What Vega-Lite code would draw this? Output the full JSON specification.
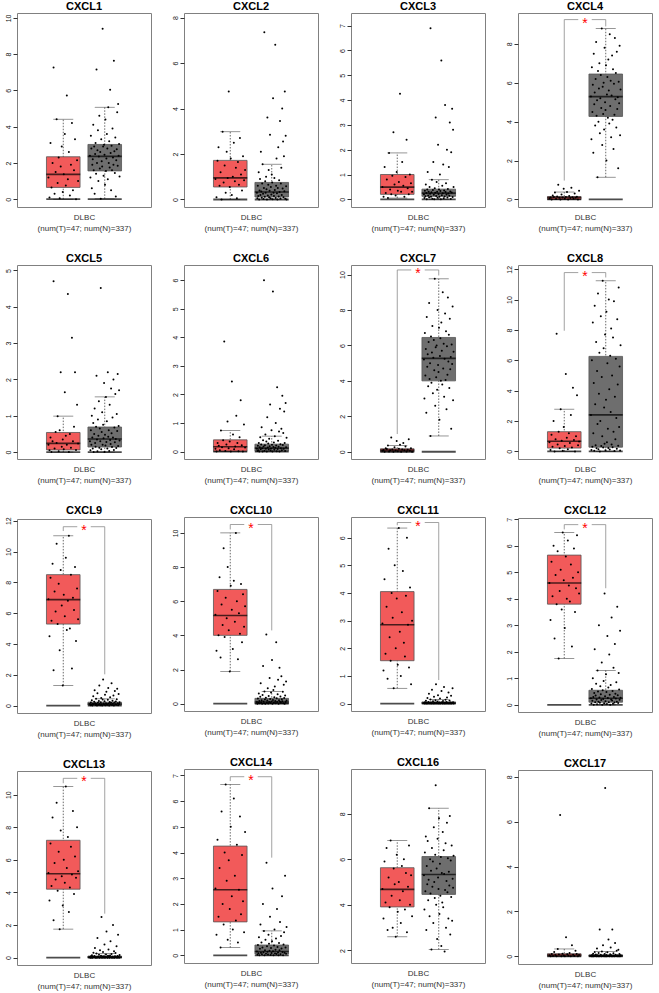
{
"$schema": "https://vega.github.io/schema/vega-lite/v6.json",
"background": "white",
"padding": {"left": 3, "top": 0, "right": 0, "bottom": 0},
"data": {"values": [
{"g":"CXCL1","t":"T","lo":0,"q1":0.65,"md":1.37,"q3":2.34,"hi":4.41,"z":0,"dmin":-0.43,"dmax":10.27,"p":[1.2,0.1,3.1,0.65,2.0,7.27,0.3,1.5,4.41,0.9,2.3,0.05,1.8,2.9,0.4,1.37,3.6,0.75,5.72,1.1,2.6,0.2,1.9,4.2,0.5,1.6,3.3,0.0,2.15,1.0]},
{"g":"CXCL1","t":"N","lo":0.02,"q1":1.56,"md":2.36,"q3":3.02,"hi":5.07,"z":0,"dmin":-0.43,"dmax":10.27,"p":[2.4,1.2,3.5,2.8,0.6,1.9,2.2,4.1,1.6,2.9,0.3,2.5,3.1,1.4,7.16,2.0,2.7,3.8,1.0,2.35,4.6,1.7,2.6,0.02,3.3,2.1,1.8,9.4,2.9,1.3,3.0,2.45,0.8,4.4,1.55,2.25,3.6,2.8,1.1,5.07,2.0,3.2,1.75,6.04,2.55,0.5,2.95,1.6,3.9,2.3,1.9,7.64,2.65,1.45,3.4,0.15,2.15,2.75,4.8,1.85,5.25,2.4,3.05,1.25]},
{"g":"CXCL2","t":"T","lo":0,"q1":0.55,"md":0.95,"q3":1.72,"hi":2.98,"z":0,"dmin":-0.33,"dmax":8.2,"p":[0.9,0.1,1.7,2.3,0.6,1.2,0.0,2.98,0.75,1.5,0.3,2.1,0.95,4.75,0.55,1.8,0.2,1.0,2.5,0.8,1.4,0.05,1.65,0.65,2.7,1.1,0.4,1.9,0.85,1.3]},
{"g":"CXCL2","t":"N","lo":0,"q1":0.11,"md":0.33,"q3":0.75,"hi":1.55,"z":0,"dmin":-0.33,"dmax":8.2,"p":[0.3,0.05,0.6,0.15,1.2,0.0,0.4,0.9,0.2,2.1,0.35,0.08,0.7,1.55,0.25,0.02,0.5,7.35,0.12,0.8,0.3,1.0,0.45,0.0,3.6,0.18,0.65,1.3,0.1,0.38,2.85,0.05,0.55,0.22,1.1,0.75,0.01,4.45,0.3,0.15,0.95,0.42,6.8,0.07,0.6,1.8,0.28,0.0,0.5,2.3,0.13,0.85,0.33,3.45,0.04,0.7,1.4,0.2,4.0,0.48,2.55,0.1,1.9,0.36,4.75,0.03,2.8,0.58,0.0]},
{"g":"CXCL3","t":"T","lo":0.05,"q1":0.2,"md":0.49,"q3":1.0,"hi":1.87,"z":0,"dmin":-0.31,"dmax":7.51,"p":[0.5,0.1,1.3,0.25,0.8,0.05,1.87,0.4,0.2,0.95,2.7,0.6,0.15,1.1,0.35,0.7,4.25,0.3,1.5,0.55,0.1,0.9,2.4,0.45,0.2,1.0,0.65,0.3]},
{"g":"CXCL3","t":"N","lo":0,"q1":0.12,"md":0.25,"q3":0.41,"hi":0.79,"z":0,"dmin":-0.31,"dmax":7.51,"p":[0.2,0.05,0.35,0.12,0.6,0.25,0.0,0.4,1.1,0.15,0.3,0.08,0.5,0.22,6.9,0.1,0.28,0.79,0.02,0.38,1.5,0.18,0.0,0.45,0.26,3.3,0.13,0.7,0.3,0.06,2.2,0.21,0.4,0.1,1.0,0.33,0.0,5.6,0.16,0.55,0.24,1.4,0.04,0.36,0.11,3.8,0.29,0.65,0.19,2.0,0.07,0.42,0.23,1.3,0.14,3.1,0.31,0.01,1.9,0.27,3.65,0.09,2.8,0.5]},
{"g":"CXCL4","t":"T","lo":0,"q1":0,"md":0.1,"q3":0.15,"hi":0.38,"z":0,"dmin":-0.39,"dmax":9.59,"top":9.25,"lg":0.97,"p":[0.05,0.1,0.0,0.2,0.12,0.35,0.02,0.15,0.75,0.08,0.0,0.25,0.1,0.55,0.04,0.13,0.38,0.0,0.18,0.07,0.6,0.11,0.03,0.3,0.09,0.14,0.0,0.45]},
{"g":"CXCL4","t":"N","lo":1.14,"q1":4.27,"md":5.29,"q3":6.45,"hi":8.79,"z":0,"dmin":-0.39,"dmax":9.59,"top":9.25,"lg":8.9,"p":[5.3,3.1,6.8,4.5,5.9,2.4,7.5,4.9,5.5,3.8,6.2,8.1,4.3,5.1,1.14,6.6,4.0,5.7,7.0,3.4,5.2,6.4,4.7,8.79,2.8,5.8,4.4,6.0,3.6,7.8,5.0,4.6,6.9,2.0,5.4,6.3,4.2,7.2,5.6,3.9,8.5,4.8,6.1,3.2,5.35,7.4,4.1,6.7,2.6,5.95,4.35,8.3,5.15,6.5,3.7,7.6,4.65,5.25,1.6,6.05,4.95,7.9,3.3,5.65]},
{"g":"CXCL5","t":"T","lo":0,"q1":0.06,"md":0.24,"q3":0.54,"hi":0.99,"z":0,"dmin":-0.19,"dmax":5.15,"p":[0.2,0.05,0.4,0.0,0.3,4.7,0.1,0.55,0.25,0.99,0.02,0.6,2.2,0.15,0.35,0.08,1.65,0.45,0.2,4.35,0.0,0.5,0.12,3.15,0.3,0.7,2.2,0.06,1.3,0.24]},
{"g":"CXCL5","t":"N","lo":0,"q1":0.14,"md":0.36,"q3":0.69,"hi":1.52,"z":0,"dmin":-0.19,"dmax":5.15,"p":[0.3,0.05,0.6,0.2,1.0,0.4,0.1,0.8,0.0,0.5,1.2,0.25,0.15,0.7,2.1,0.35,0.02,0.9,0.45,1.4,0.12,0.65,0.3,4.52,0.08,0.55,1.1,0.2,0.75,0.38,1.9,0.0,0.48,0.18,1.52,0.28,0.85,0.1,2.2,0.42,0.6,0.03,1.3,0.33,0.22,1.75,0.52,0.14,0.95,0.4,2.0,0.06,0.68,0.27,1.6,0.36,0.11,1.05,0.58,2.15,0.17,0.72,1.7,0.32]},
{"g":"CXCL6","t":"T","lo":0,"q1":0.01,"md":0.17,"q3":0.41,"hi":0.74,"z":0,"dmin":-0.26,"dmax":6.53,"p":[0.1,0.0,0.3,0.2,0.05,0.74,0.15,0.4,3.85,0.02,0.25,1.05,0.12,0.35,0.0,2.45,0.6,0.08,0.18,1.25,0.3,0.01,0.5,1.8,0.22,0.0,0.95,0.14]},
{"g":"CXCL6","t":"N","lo":0,"q1":0.02,"md":0.12,"q3":0.26,"hi":0.54,"z":0,"dmin":-0.26,"dmax":6.53,"p":[0.1,0.02,0.2,0.05,0.3,0.0,0.15,0.5,0.08,0.25,0.85,0.12,0.0,0.4,0.18,6.0,0.03,0.22,0.6,0.1,0.35,0.0,1.2,0.14,0.28,0.07,0.45,0.19,1.65,0.04,0.11,0.75,0.24,0.0,5.6,0.16,0.32,0.06,0.54,0.13,1.0,0.21,0.01,2.25,0.09,0.38,0.17,0.7,0.0,1.5,0.26,0.12,0.8,0.05,1.95,0.23,0.65,0.1,1.4,0.3,0.02,1.7,0.15,0.48]},
{"g":"CXCL7","t":"T","lo":0,"q1":0,"md":0.09,"q3":0.17,"hi":0.35,"z":0,"dmin":-0.41,"dmax":10.54,"top":10.26,"lg":1.0,"p":[0.05,0.1,0.0,0.2,0.15,0.35,0.02,0.09,0.8,0.12,0.0,0.25,0.07,0.6,0.03,0.17,0.4,0.0,0.13,0.5,0.08,0.3,0.01,0.11,0.7,0.06,0.19,0.0]},
{"g":"CXCL7","t":"N","lo":0.89,"q1":4.0,"md":5.27,"q3":6.45,"hi":9.76,"z":0,"dmin":-0.41,"dmax":10.54,"top":10.26,"lg":9.95,"p":[5.2,3.0,6.7,4.3,5.8,2.2,7.6,4.8,5.5,3.7,6.2,8.4,4.1,5.0,0.89,6.5,3.9,5.6,7.1,3.3,5.3,6.3,4.6,9.76,2.6,5.9,4.2,6.0,3.5,8.0,4.9,4.5,7.0,1.8,5.4,6.4,4.0,7.3,5.7,3.8,9.0,4.7,6.1,3.1,5.25,7.8,4.05,6.8,2.4,5.95,4.35,8.7,5.1,6.6,3.6,7.5,4.65,5.35,1.3,6.05,4.95,8.2,2.9,5.65]},
{"g":"CXCL8","t":"T","lo":0,"q1":0.22,"md":0.67,"q3":1.3,"hi":2.78,"z":0,"dmin":-0.5,"dmax":12.28,"top":11.78,"lg":7.95,"p":[0.6,0.1,1.1,0.3,2.0,0.0,0.8,7.75,0.45,1.3,0.2,2.78,0.7,0.05,1.6,0.35,5.1,0.9,0.15,1.2,0.55,2.4,0.25,4.2,0.75,0.0,1.0,3.7,0.4,0.65]},
{"g":"CXCL8","t":"N","lo":0,"q1":0.28,"md":2.41,"q3":6.26,"hi":11.24,"z":0,"dmin":-0.5,"dmax":12.28,"top":11.78,"lg":11.46,"p":[2.4,0.1,6.0,0.3,8.5,1.2,4.5,0.05,9.6,3.1,0.4,7.2,0.2,5.3,1.8,10.4,0.15,3.8,6.5,0.0,2.0,8.9,0.35,4.9,1.0,11.24,0.25,6.8,2.9,0.5,7.7,0.08,3.4,9.2,0.6,5.8,1.5,0.22,10.0,4.1,0.12,6.3,2.6,8.1,0.45,5.0,0.28,7.5,1.3,9.9,0.02,3.6,0.8,6.1,2.2,0.18,8.7,4.4,0.38,10.8,1.6,5.6,0.06,7.0]},
{"g":"CXCL9","t":"T","lo":1.31,"q1":5.29,"md":6.88,"q3":8.5,"hi":11.02,"z":0,"dmin":-0.48,"dmax":12.11,"top":11.61,"lg":11.33,"p":[6.9,4.5,8.3,5.5,9.2,2.3,7.4,6.1,10.5,5.3,7.9,3.6,8.8,6.5,1.31,7.2,5.8,9.6,4.9,6.8,11.02,5.0,8.5,2.4,7.0,6.2,9.0,4.2,7.6,5.6]},
{"g":"CXCL9","t":"N","lo":0,"q1":0.04,"md":0.1,"q3":0.22,"hi":0.44,"z":0,"dmin":-0.48,"dmax":12.11,"top":11.61,"lg":2.03,"p":[0.1,0.02,0.2,0.05,0.35,0.0,0.12,0.6,0.08,0.25,1.0,0.15,0.04,0.44,0.1,0.0,0.8,0.18,0.06,0.3,1.3,0.11,0.03,0.22,0.5,0.09,0.0,0.4,1.7,0.14,0.07,0.28,0.7,0.02,0.16,0.9,0.1,0.05,0.38,1.15,0.13,0.0,0.24,0.55,0.08,0.19,1.45,0.04,0.32,0.12,0.65,0.01,0.2,0.95,0.09,0.27,0.06,0.42,1.1,0.15,0.03,0.75,0.1,0.21]},
{"g":"CXCL10","t":"T","lo":1.89,"q1":4.0,"md":5.16,"q3":6.69,"hi":10.0,"z":0,"dmin":-0.43,"dmax":10.93,"top":10.49,"lg":10.2,"p":[5.2,3.1,6.6,4.0,7.4,2.7,5.8,4.6,9.1,3.9,6.2,5.0,8.0,4.3,1.89,6.9,5.5,3.2,7.2,4.8,10.0,6.0,2.6,5.3,4.1,7.0,3.6,6.4,4.5,5.7]},
{"g":"CXCL10","t":"N","lo":0,"q1":0,"md":0.1,"q3":0.31,"hi":0.71,"z":0,"dmin":-0.43,"dmax":10.93,"top":10.49,"lg":4.29,"p":[0.1,0.0,0.3,0.05,0.6,0.15,0.02,0.4,1.2,0.08,0.2,0.0,0.5,2.2,0.12,0.03,0.71,0.25,0.0,0.35,4.05,0.07,0.18,0.9,0.01,0.45,0.1,1.5,0.28,0.04,0.65,0.13,2.55,0.0,0.22,0.8,0.06,0.38,1.0,0.16,0.02,3.6,0.31,0.09,0.55,1.4,0.0,0.2,2.1,0.11,0.42,0.05,1.6,0.26,0.14,0.7,0.03,1.1,0.33,0.0,0.48,0.1,1.3,0.19]},
{"g":"CXCL11","t":"T","lo":0.55,"q1":1.55,"md":2.85,"q3":4.05,"hi":6.35,"z":0,"dmin":-0.27,"dmax":6.75,"top":6.55,"lg":6.45,"p":[2.9,1.2,4.5,1.8,3.5,0.9,5.6,2.4,1.55,4.0,3.1,0.55,5.0,2.0,3.8,1.4,6.35,2.6,1.0,3.3,4.8,2.2,1.7,3.9,6.0,2.85,1.3,4.2,0.7,3.0]},
{"g":"CXCL11","t":"N","lo":0,"q1":0,"md":0.02,"q3":0.06,"hi":0.15,"z":0,"dmin":-0.27,"dmax":6.75,"top":6.55,"lg":0.85,"p":[0.02,0.0,0.05,0.01,0.1,0.0,0.03,0.2,0.0,0.06,0.35,0.02,0.0,0.15,0.04,0.0,0.5,0.01,0.08,0.0,0.25,0.03,0.0,0.12,0.7,0.02,0.0,0.07,0.3,0.01,0.0,0.04,0.18,0.0,0.02,0.45,0.05,0.0,0.09,0.01,0.6,0.0,0.03,0.14,0.0,0.06,0.22,0.02,0.0,0.4,0.01,0.11,0.0,0.04,0.28,0.0,0.02,0.55,0.05,0.0]},
{"g":"CXCL12","t":"T","lo":1.75,"q1":3.8,"md":4.6,"q3":5.65,"hi":6.5,"z":0,"dmin":-0.27,"dmax":7.05,"top":6.8,"lg":6.62,"p":[4.6,3.2,5.4,4.1,6.0,2.5,4.9,3.8,5.8,1.75,4.3,5.1,3.6,6.5,4.7,2.9,5.6,4.0,6.2,4.5,3.9,5.3,2.2,4.8,5.9,3.5,4.4,6.4,5.0,4.2]},
{"g":"CXCL12","t":"N","lo":0,"q1":0.1,"md":0.25,"q3":0.55,"hi":1.3,"z":0,"dmin":-0.27,"dmax":7.05,"top":6.8,"lg":4.4,"p":[0.25,0.05,0.6,0.15,1.0,0.3,0.0,0.45,2.1,0.1,0.35,0.8,0.2,0.02,1.3,0.5,0.12,3.0,0.28,0.08,0.7,0.4,0.18,1.6,0.0,0.55,0.22,0.9,0.06,4.2,0.32,0.14,1.15,0.48,0.03,2.6,0.26,0.65,0.1,1.9,0.38,0.0,0.75,0.2,3.3,0.16,0.52,0.04,1.4,0.3,0.09,2.3,0.42,0.24,0.85,0.12,3.7,0.36,0.07,1.2,0.58,0.19,2.8,0.27]},
{"g":"CXCL13","t":"T","lo":1.75,"q1":4.2,"md":5.15,"q3":7.2,"hi":10.5,"z":0,"dmin":-0.45,"dmax":11.45,"top":11.0,"lg":10.7,"p":[5.2,3.5,7.0,4.4,8.6,2.3,5.8,4.8,9.5,4.1,6.5,1.75,7.8,5.0,3.2,6.0,4.6,10.5,5.5,7.4,2.8,4.3,6.8,5.1,9.0,3.9,6.2,4.9,8.0,5.3]},
{"g":"CXCL13","t":"N","lo":0,"q1":0,"md":0.03,"q3":0.1,"hi":0.25,"z":0,"dmin":-0.45,"dmax":11.45,"top":11.0,"lg":2.7,"p":[0.03,0.0,0.08,0.01,0.15,0.0,0.05,0.3,0.02,0.1,0.6,0.0,0.04,0.25,0.0,1.2,0.06,0.02,0.18,0.0,0.45,0.03,0.12,2.5,0.0,0.07,0.35,0.01,0.09,0.8,0.0,0.04,0.2,1.6,0.02,0.0,0.11,0.5,0.05,0.0,0.14,1.0,0.03,0.22,0.0,0.06,2.0,0.01,0.4,0.0,0.08,0.28,0.02,0.7,0.0,0.1,1.4,0.04,0.0,0.16]},
{"g":"CXCL14","t":"T","lo":0.3,"q1":1.3,"md":2.55,"q3":4.25,"hi":6.65,"z":0,"dmin":-0.3,"dmax":7.25,"top":6.95,"lg":6.78,"p":[2.6,0.8,4.5,1.5,3.4,0.3,5.6,2.0,1.2,4.0,6.65,2.9,0.6,3.7,1.8,5.0,2.3,1.0,6.1,3.1,1.35,4.3,0.5,2.55,5.4,1.6,3.9,2.1,0.9,4.8]},
{"g":"CXCL14","t":"N","lo":0,"q1":0.05,"md":0.15,"q3":0.4,"hi":0.95,"z":0,"dmin":-0.3,"dmax":7.25,"top":6.95,"lg":3.8,"p":[0.15,0.02,0.4,0.08,0.7,0.0,0.25,1.2,0.1,0.5,0.04,0.3,2.0,0.12,0.95,0.0,0.2,0.6,0.06,3.6,0.35,0.14,0.03,0.8,0.45,0.18,1.5,0.01,0.28,0.09,0.55,2.6,0.16,0.0,0.38,1.0,0.07,0.22,0.65,0.05,1.8,0.32,0.11,0.0,0.48,0.2,1.3,0.04,0.75,0.26,2.3,0.13,0.0,0.42,0.9,0.1,3.1,0.3,0.06,1.1]},
{"g":"CXCL16","t":"T","lo":2.6,"q1":3.91,"md":4.68,"q3":5.63,"hi":6.82,"dmin":1.45,"dmax":9.96,"p":[4.7,3.4,5.9,4.1,6.5,2.9,5.2,3.9,6.82,4.4,3.0,5.6,4.9,2.6,6.2,3.7,5.0,4.2,3.2,5.7,4.6,6.0,3.8,5.4,2.8,4.8,6.6,4.0,5.3,3.5]},
{"g":"CXCL16","t":"N","lo":2.04,"q1":4.46,"md":5.33,"q3":6.12,"hi":8.24,"dmin":1.45,"dmax":9.96,"p":[5.3,3.8,6.3,4.6,7.0,2.9,5.7,4.9,6.8,4.2,5.1,8.24,3.5,6.0,4.5,5.5,2.04,6.5,4.8,5.9,3.2,7.4,5.0,4.3,6.2,9.25,4.0,5.6,2.5,6.9,5.2,4.7,7.8,3.6,5.8,4.4,6.1,2.2,5.4,4.1,7.2,3.9,6.4,5.35,1.95,4.65,6.7,3.0,5.05,7.6,4.55,6.05,3.4,5.45,4.85,7.9,2.7,5.95,4.35,6.6,3.3,5.15,4.75,6.15]},
{"g":"CXCL17","t":"T","lo":0,"q1":0,"md":0.06,"q3":0.12,"hi":0.33,"z":0,"dmin":-0.34,"dmax":8.3,"p":[0.05,0.0,0.1,0.02,0.2,0.06,0.0,0.33,0.08,6.3,0.01,0.12,0.04,0.0,0.85,0.09,0.03,0.15,0.0,0.5,0.07,0.02,0.25,0.11,0.0,0.06]},
{"g":"CXCL17","t":"N","lo":0,"q1":0,"md":0.03,"q3":0.07,"hi":0.22,"z":0,"dmin":-0.34,"dmax":8.3,"p":[0.03,0.0,0.06,0.01,0.12,0.0,0.04,0.2,0.02,0.08,0.0,0.35,0.05,0.01,0.15,0.0,1.2,0.03,0.07,0.0,0.22,0.02,0.5,0.04,0.0,0.1,7.5,0.01,0.06,0.0,0.18,0.03,0.75,0.02,0.0,0.09,0.4,0.05,0.0,1.2,0.01,0.14,0.03,0.0,0.6,0.07,0.02,0.25,0.0,0.04,0.3,0.01,0.11,0.0,0.05]}
]},
"facet": {"field": "g", "type": "nominal", "title": null,
  "sort": ["CXCL1","CXCL2","CXCL3","CXCL4","CXCL5","CXCL6","CXCL7","CXCL8","CXCL9","CXCL10","CXCL11","CXCL12","CXCL13","CXCL14","CXCL16","CXCL17"],
  "header": {"title": null, "labelFontSize": 11, "labelFontWeight": "bold", "labelPadding": 1, "labelColor": "#000", "labelFont": "Liberation Sans"}},
"columns": 4,
"spacing": {"row": 19, "column": 18},
"resolve": {"scale": {"y": "independent", "xOffset": "independent"}, "axis": {"x": "independent", "y": "independent"}},
"spec": {
  "width": 134,
  "height": 194,
  "encoding": {
    "x": {"field": "t", "type": "nominal", "sort": ["T","N"],
      "scale": {"domain": ["T","N"], "paddingInner": 0.19, "paddingOuter": 0.71},
      "axis": {"labels": false, "ticks": false, "domain": false, "title": ["DLBC", "(num(T)=47; num(N)=337)"], "titleColor": "#333333"}}
  },
  "resolve": {"scale": {"xOffset": "independent"}},
  "layer": [
    {"mark": {"type": "rule", "strokeOpacity": 0},
     "encoding": {"y": {"field": "dmin", "type": "quantitative", "scale": {"zero": false, "nice": false}, "axis": {"title": null, "tickCount": 6, "labelOverlap": false}}, "y2": {"field": "dmax"}}},
    {"mark": {"type": "rule", "color": "#444", "strokeWidth": 0.8, "strokeDash": [1.5, 1.5]},
     "encoding": {"y": {"field": "lo", "type": "quantitative"}, "y2": {"field": "hi"}}},
    {"mark": {"type": "tick", "color": "#444", "size": 20, "thickness": 0.8},
     "encoding": {"y": {"field": "lo", "type": "quantitative"}}},
    {"mark": {"type": "tick", "color": "#444", "size": 20, "thickness": 0.8},
     "encoding": {"y": {"field": "hi", "type": "quantitative"}}},
    {"mark": {"type": "bar", "stroke": "#555", "strokeWidth": 0.8},
     "encoding": {"y": {"field": "q1", "type": "quantitative"}, "y2": {"field": "q3"},
       "color": {"field": "t", "type": "nominal", "scale": {"domain": ["T","N"], "range": ["#F25A5A", "#6E6E6E"]}, "legend": null}}},
    {"mark": {"type": "tick", "color": "#000", "size": 34, "thickness": 1.8},
     "encoding": {"y": {"field": "z", "type": "quantitative"}}},
    {"layer": [
      {"transform": [{"filter": "datum.t == 'T'"}, {"flatten": ["p"], "as": ["v"]}, {"window": [{"op": "row_number", "as": "i"}], "groupby": ["g"]}],
       "mark": {"type": "point", "filled": true, "size": 4, "color": "#000", "opacity": 1},
       "encoding": {"y": {"field": "v", "type": "quantitative"}, "xOffset": {"field": "i", "type": "quantitative", "scale": {"zero": false, "nice": false, "padding": 2}}}},
      {"transform": [{"filter": "datum.t == 'N'"}, {"flatten": ["p"], "as": ["v"]}, {"window": [{"op": "row_number", "as": "i"}], "groupby": ["g"]}],
       "mark": {"type": "point", "filled": true, "size": 4, "color": "#000", "opacity": 1},
       "encoding": {"y": {"field": "v", "type": "quantitative"}, "xOffset": {"field": "i", "type": "quantitative", "scale": {"zero": false, "nice": false, "padding": 2}}}}
    ], "resolve": {"scale": {"xOffset": "independent"}}},
    {"mark": {"type": "tick", "color": "#000", "size": 34, "thickness": 1.6},
     "encoding": {"y": {"field": "md", "type": "quantitative"}}},
    {"transform": [{"filter": "isValid(datum.top)"}],
     "mark": {"type": "rule", "color": "#8a8a8a", "strokeWidth": 0.8},
     "encoding": {"y": {"field": "lg", "type": "quantitative"}, "y2": {"field": "top"}}},
    {"transform": [{"filter": "isValid(datum.top) && datum.t == 'T'"}],
     "mark": {"type": "rule", "color": "#8a8a8a", "strokeWidth": 0.8, "x2Offset": 14},
     "encoding": {"x2": {"datum": "T"}, "y": {"field": "top", "type": "quantitative"}}},
    {"transform": [{"filter": "isValid(datum.top) && datum.t == 'T'"}],
     "mark": {"type": "rule", "color": "#8a8a8a", "strokeWidth": 0.8, "xOffset": -14},
     "encoding": {"x": {"datum": "N"}, "x2": {"datum": "N"}, "y": {"field": "top", "type": "quantitative"}}},
    {"transform": [{"filter": "isValid(datum.top) && datum.t == 'T'"}],
     "mark": {"type": "text", "text": "*", "color": "#FF0000", "fontSize": 14, "dx": 20.7, "dy": 4, "baseline": "middle", "align": "center"},
     "encoding": {"y": {"field": "top", "type": "quantitative"}}}
  ]
},
"config": {
  "font": "Liberation Sans",
  "view": {"stroke": "#808080", "strokeWidth": 1},
  "axisY": {"labelAngle": -90, "labelAlign": "center", "labelBaseline": "bottom", "labelFontSize": 7, "labelColor": "#111", "tickSize": 4, "tickColor": "#333", "labelPadding": 2, "domain": false, "grid": false, "title": null},
  "axisX": {"titleFontSize": 8, "titleFontWeight": "normal", "titleColor": "#333333", "titlePadding": 6, "titleLineHeight": 11, "grid": false}
}
}
